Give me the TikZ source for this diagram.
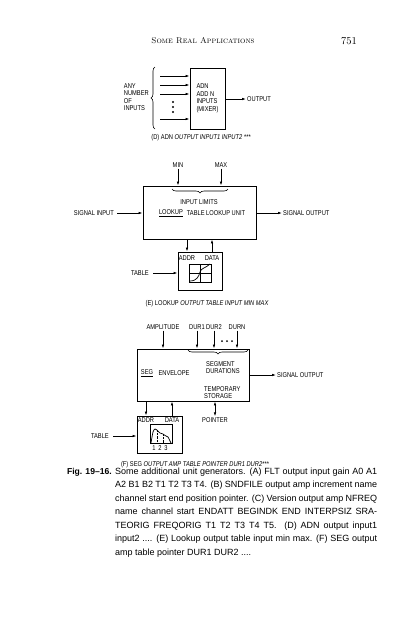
\documentclass[tikz,border=0pt]{standalone}
\usepackage{fontspec}
\newfontfamily\lblfont[FakeStretch=0.82]{Liberation Sans}
\newfontfamily\capfont{Liberation Sans}
\usetikzlibrary{arrows.meta,decorations.pathreplacing,positioning}

\begin{document}
\begin{tikzpicture}[x=1pt,y=-1pt,
    box/.style={draw, line width=0.9pt, inner sep=0pt},
    lbl/.style={font=\lblfont\fontsize{7}{7.5}\selectfont, inner sep=1pt},
    arr/.style={-{Latex[length=4pt,width=2.6pt]}, line width=0.7pt},
    brc/.style={decorate, decoration={brace, amplitude=4pt}, line width=0.6pt}]
\useasboundingbox (0,0) rectangle (416,640);

% Page heading
\node[font=\fontsize{8.4}{10}\selectfont\scshape] (head) at (203,41) {Some Real Applications};
\node[font=\fontsize{10.5}{12}\selectfont] (page) at (349,41) {751};

% (D) adder
\node[box, lbl, minimum width=35pt, minimum height=61pt, align=left] (adn) at (207.5,98.5) {ADN\\ADD N\\INPUTS\\(MIXER)};
\foreach \y/\n in {76/1,85/2,94/3,119/4} {
  \coordinate (inD\n) at (160,\y);
  \draw[arr] (inD\n) -- (inD\n -| adn.west);
}
\foreach \y in {102,107,112} \fill (173,\y) circle (1.2pt);
\draw[brc] (155,129) -- (155,67);
\node[lbl, align=left, anchor=east] (anyin) at (150,97) {ANY\\NUMBER\\OF\\INPUTS};
\node[lbl, anchor=west] (outD) at (246,99) {OUTPUT};
\draw[arr] (adn.east |- outD) -- (outD.west);
\node[lbl] (capD) at (201,138) {(D) ADN {\itshape OUTPUT INPUT1 INPUT2 ***}};

% (E) table lookup
\node[box, minimum width=113pt, minimum height=53pt] (lookup) at (199.5,212.5) {};
\node[lbl] (minE) at (178,165) {MIN};
\node[lbl] (maxE) at (221,165) {MAX};
\draw[arr] (minE.south) -- (minE.south |- lookup.north);
\draw[arr] (maxE.south) -- (maxE.south |- lookup.north);
\draw[brc] (228,189) -- (172,189);
\node[lbl] (limits) at (199,202) {INPUT LIMITS};
\node[lbl] (lkname) at (171,213) {\underline{LOOKUP}};
\node[lbl] (lkunit) at (216,213) {TABLE LOOKUP UNIT};
\node[lbl, anchor=east] (sigin) at (115,213) {SIGNAL INPUT};
\draw[arr, shorten <=2pt] (sigin.east) -- (sigin -| lookup.west);
\node[lbl, anchor=west] (sigoutE) at (282,213) {SIGNAL OUTPUT};
\draw[arr] (lookup.east |- sigoutE) -- (sigoutE.west);

\node[box, minimum width=44pt, minimum height=38pt] (tabE) at (200,271) {};
\node[lbl] (addrE) at (187,258.5) {ADDR};
\node[lbl] (dataE) at (212,258.5) {DATA};
\draw[arr] (addrE |- lookup.south) -- (addrE |- tabE.north);
\draw[arr] (dataE |- tabE.north) -- (dataE |- lookup.south);
\draw[line width=0.5pt] (189,264) rectangle (211,282);
\draw[line width=0.5pt] (200,264) -- (200,282) (189,273) -- (211,273);
\draw[line width=0.7pt] (190,281) .. controls (197,281) and (199,276) .. (200,272)
  .. controls (201,268) and (206,268) .. (210,264);
\node[lbl, anchor=east] (tabinE) at (150,273) {TABLE};
\draw[arr, shorten <=3pt] (tabinE.east) -- (tabinE -| tabE.west);
\node[lbl] (capE) at (207,304) {(E) LOOKUP {\itshape OUTPUT TABLE INPUT MIN MAX}};

% (F) segmented envelope
\node[box, minimum width=112pt, minimum height=52pt] (seg) at (193,375) {};
\node[lbl] (ampF) at (163,327) {AMPLITUDE};
\node[lbl] (dur1) at (197,327) {DUR1};
\node[lbl] (dur2) at (214,327) {DUR2};
\node[lbl] (durn) at (237,327) {DURN};
\foreach \n in {ampF,dur1,dur2,durn}
  \draw[arr] (\n.south) -- (\n.south |- seg.north);
\foreach \x in {222,227,232} \fill (\x,341) circle (1pt);
\draw[brc] (248,350) -- (188,350);
\node[lbl, anchor=west, align=left] (segdur) at (205,367.5) {SEGMENT\\DURATIONS};
\node[lbl] (segname) at (147,373) {\underline{SEG}};
\node[lbl] (envel) at (174,373) {ENVELOPE};
\node[lbl, anchor=west, align=left] (tmpst) at (203,392.5) {TEMPORARY\\STORAGE};
\node[lbl, anchor=west] (sigoutF) at (276,375) {SIGNAL OUTPUT};
\draw[arr] (seg.east |- sigoutF) -- (sigoutF.west);

\node[box, minimum width=45pt, minimum height=37pt] (tabF) at (159.5,434.5) {};
\node[lbl] (addrF) at (146,420) {ADDR};
\node[lbl] (dataF) at (172,420) {DATA};
\draw[arr] (addrF |- seg.south) -- (addrF |- tabF.north);
\draw[arr] (dataF |- tabF.north) -- (dataF |- seg.south);
\node[lbl] (pointer) at (215,420) {POINTER};
\draw[{Latex[length=4pt,width=2.6pt]}-{Latex[length=4pt,width=2.6pt]}, line width=0.7pt]
  (pointer.north) -- (pointer |- seg.south);
\draw[line width=0.5pt] (150,424) rectangle (172,443);
\draw[line width=0.7pt] plot[smooth] coordinates {(151,443) (153,432) (155,429) (157,430)
  (160,433) (163,434) (166,436) (168,437) (170,441) (171,443)};
\draw[densely dotted, line width=0.4pt] (157,430) -- (157,443) (163,434) -- (163,443);
\foreach \x/\t in {154/1,160/2,166/3} \node[lbl] (n\t) at (\x,448) {\t};
\node[lbl, anchor=east] (tabinF) at (110,436) {TABLE};
\draw[arr, shorten <=3pt] (tabinF.east) -- (tabinF -| tabF.west);
\node[lbl] (capF) at (195,465) {(F) SEG {\itshape OUTPUT AMP TABLE POINTER DUR1 DUR2***}};

% Caption
\node[anchor=base east, inner sep=0pt, font=\capfont\bfseries\fontsize{8.6}{13.5}\selectfont] (figno) at (112,474) {Fig. 19–16.};
\node[anchor=north west, inner sep=0pt, text width=262pt, align=justify,
  font=\capfont\fontsize{9}{13.5}\selectfont] (figtext) at (115,467.4)
  {Some additional unit generators. (A) FLT output input gain A0 A1\linebreak
  A2 B1 B2 T1 T2 T3 T4. (B) SNDFILE output amp increment name\linebreak
  channel start end position pointer. (C) Version output amp NFREQ\linebreak
  name channel start ENDATT BEGINDK END INTERPSIZ SRA-\linebreak
  TEORIG FREQORIG T1 T2 T3 T4 T5. (D) ADN output input1\linebreak
  input2 .... (E) Lookup output table input min max. (F) SEG output\linebreak
  amp table pointer DUR1 DUR2 ....};

\end{tikzpicture}
\end{document}
